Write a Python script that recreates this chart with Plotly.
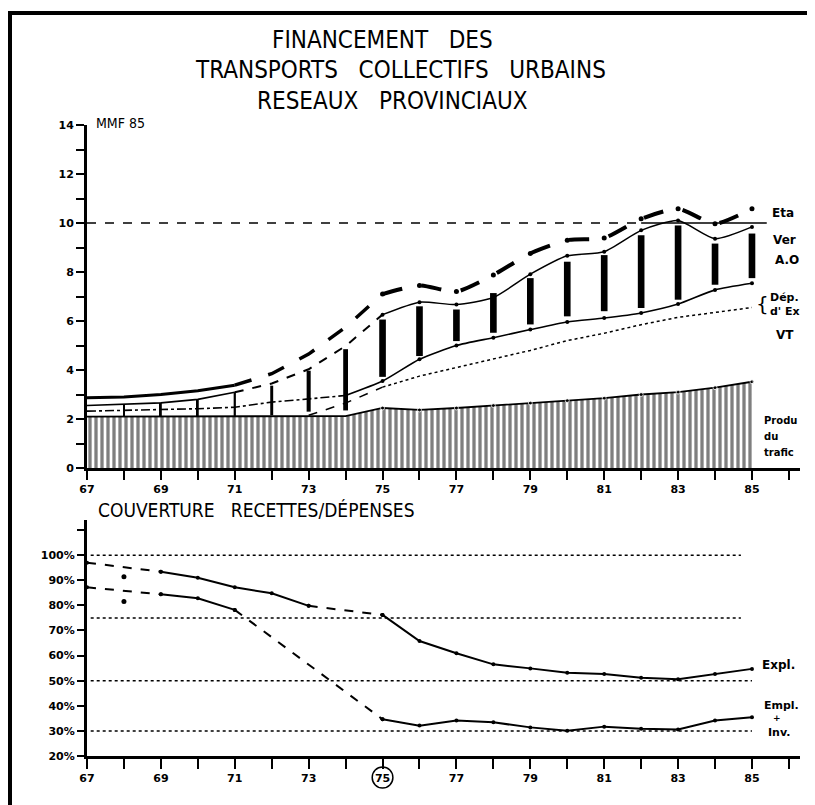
import plotly.graph_objects as go

# ---- upper chart: financement (MMF 85) ----
years = list(range(67, 86))
etat = [2.87, 2.9, 3.0, 3.15, 3.38, 3.85, 4.65, 5.75, 7.1, 7.45, 7.2, 7.88, 8.76, 9.3, 9.39, 10.17, 10.58, 9.97, 10.58]
ver_ao = [2.55, 2.59, 2.66, 2.8, 3.09, 3.45, 4.03, 4.98, 6.26, 6.77, 6.67, 6.96, 7.91, 8.66, 8.83, 9.7, 10.1, 9.36, 9.84]
dep_ex = [2.32, 2.35, 2.38, 2.42, 2.48, 2.69, 2.82, 2.96, 3.55, 4.44, 5.0, 5.32, 5.65, 5.96, 6.12, 6.33, 6.69, 7.27, 7.54]
vt_years = list(range(73, 86))
vt = [2.15, 2.65, 3.3, 3.75, 4.1, 4.45, 4.8, 5.2, 5.5, 5.85, 6.15, 6.35, 6.55]
produit = [2.1, 2.1, 2.1, 2.1, 2.1, 2.1, 2.1, 2.12, 2.45, 2.37, 2.45, 2.55, 2.65, 2.75, 2.85, 3.0, 3.1, 3.28, 3.52]

bar_years = list(range(68, 86))
bar_top = [2.59, 2.66, 2.8, 3.09, 3.36, 3.97, 4.85, 6.06, 6.6, 6.47, 7.14, 7.75, 8.42, 8.69, 9.5, 9.9, 9.16, 9.57]
bar_bottom = [2.1, 2.1, 2.1, 2.1, 2.15, 2.3, 2.35, 3.72, 4.57, 5.18, 5.52, 5.86, 6.19, 6.4, 6.53, 6.87, 7.48, 7.75]

ref10_dash_x = [67, 82]
ref10_solid_x = [82, 85.4]
ref10_y = [10, 10]

y_ticks_up = list(range(0, 15))
y_labels_up = ["0", "", "2", "", "4", "", "6", "", "8", "", "10", "", "12", "", "14"]

# ---- lower chart: couverture recettes / depenses (%) ----
expl_years = [67, 69, 70, 71, 72, 73, 75, 76, 77, 78, 79, 80, 81, 82, 83, 84, 85]
expl = [97.0, 93.4, 91.0, 87.2, 84.8, 79.8, 76.2, 65.8, 60.9, 56.5, 54.9, 53.2, 52.7, 51.2, 50.6, 52.7, 54.7]
inv_years = [67, 69, 70, 71, 75, 76, 77, 78, 79, 80, 81, 82, 83, 84, 85]
empl_inv = [87.2, 84.4, 82.8, 78.2, 34.6, 32.1, 34.1, 33.4, 31.4, 30.1, 31.7, 30.9, 30.6, 34.1, 35.4]
extra_x = [68, 68]
extra_y = [91.4, 81.5]

ref_levels = [100, 75, 50, 30]
ref_end = [84.7, 84.7, 85, 85]

y_ticks_low = list(range(20, 120, 10))
y_labels_low = ["20%", "30%", "40%", "50%", "60%", "70%", "80%", "90%", "100%", ""]

x_ticks = list(range(67, 87))
x_labels = [str(y) if y % 2 == 1 and y < 86 else "" for y in x_ticks]

K = "black"
FONT = "Liberation Sans Narrow, DejaVu Sans Condensed, Roboto Condensed, Liberation Sans, sans-serif"

# the page body has an 8px margin: the figure is made 8px smaller and
# window pixels are converted to paper fractions with that offset
OFF = 8
W, H = 815 - OFF, 805 - OFF


def px(x):
    return (x - OFF) / W


def py(y):
    return 1 - (y - OFF) / H


fig = go.Figure()


def seg(xs, ys, a, b, **kw):
    fig.add_trace(go.Scatter(x=xs[a:b], y=ys[a:b], showlegend=False, hoverinfo="skip", **kw))


# hatched "produit du trafic"
fig.add_trace(go.Scatter(x=years, y=produit, mode="lines+markers", fill="tozeroy",
                         line=dict(color=K, width=1.8), marker=dict(size=[0]*8 + [4]*11, color=K),
                         fillcolor="rgba(0,0,0,0)",
                         fillpattern=dict(shape="|", size=6, solidity=0.55, fgcolor=K, bgcolor="white"),
                         showlegend=False, hoverinfo="skip"))

# vertical bars between Dép. d'Ex and Ver. A.O
bar_w = [0.05, 0.05, 0.05, 0.06, 0.08, 0.11, 0.13, 0.18, 0.18, 0.18, 0.18, 0.18, 0.18, 0.18, 0.18, 0.18, 0.18, 0.18]
fig.add_trace(go.Bar(x=bar_years, y=[t - b for t, b in zip(bar_top, bar_bottom)], base=bar_bottom,
                     width=bar_w, marker=dict(color=K, line=dict(width=0)), showlegend=False, hoverinfo="skip"))

# Dép. d'Ex
seg(years, dep_ex, 0, 8, mode="lines", line=dict(color=K, width=1.6, dash="dashdot"))
seg(years, dep_ex, 7, 19, mode="lines+markers", line=dict(color=K, width=1.6, shape="spline", smoothing=0.6),
    marker=dict(size=4, color=K))
# VT
seg(vt_years, vt, 0, 3, mode="lines", line=dict(color=K, width=1.5, dash="dash"))
seg(vt_years, vt, 2, 13, mode="lines", line=dict(color=K, width=1.5, dash="dot"))
# Ver. A.O
seg(years, ver_ao, 0, 5, mode="lines", line=dict(color=K, width=1.6))
seg(years, ver_ao, 4, 9, mode="lines", line=dict(color=K, width=2, dash="dash"))
seg(years, ver_ao, 8, 19, mode="lines+markers", line=dict(color=K, width=1.5, shape="spline", smoothing=0.6),
    marker=dict(size=4, color=K))
# Etat
seg(years, etat, 0, 5, mode="lines", line=dict(color=K, width=3))
seg(years, etat, 4, 9, mode="lines", line=dict(color=K, width=3.5, dash="longdash"))
seg(years, etat, 8, 19, mode="lines+markers", line=dict(color=K, width=4, dash="longdash", shape="spline", smoothing=0.6),
    marker=dict(size=5, color=K))
# 10 line
fig.add_trace(go.Scatter(x=ref10_dash_x, y=ref10_y, mode="lines", line=dict(color=K, width=1.5, dash="dash"),
                         showlegend=False, hoverinfo="skip"))
fig.add_trace(go.Scatter(x=ref10_solid_x, y=ref10_y, mode="lines", line=dict(color=K, width=1.5),
                         showlegend=False, hoverinfo="skip"))

# lower chart
for lv, end in zip(ref_levels, ref_end):
    fig.add_trace(go.Scatter(x=[67.1, end], y=[lv, lv], mode="lines", xaxis="x2", yaxis="y2",
                             line=dict(color=K, width=1.5, dash="dot"), showlegend=False, hoverinfo="skip"))


def seg2(xs, ys, a, b, dash):
    fig.add_trace(go.Scatter(x=xs[a:b], y=ys[a:b], mode="lines+markers", xaxis="x2", yaxis="y2",
                             line=dict(color=K, width=2, dash=dash), marker=dict(size=4, color=K),
                             showlegend=False, hoverinfo="skip"))


seg2(expl_years, expl, 0, 2, "dash")
seg2(expl_years, expl, 1, 6, "solid")
seg2(expl_years, expl, 5, 7, "dash")
seg2(expl_years, expl, 6, 17, "solid")
seg2(inv_years, empl_inv, 0, 2, "dash")
seg2(inv_years, empl_inv, 1, 4, "solid")
seg2(inv_years, empl_inv, 3, 5, "dash")
seg2(inv_years, empl_inv, 4, 15, "solid")
fig.add_trace(go.Scatter(x=extra_x, y=extra_y, mode="markers", xaxis="x2", yaxis="y2",
                         marker=dict(size=5, color=K), showlegend=False, hoverinfo="skip"))

tickfont = dict(family="DejaVu Sans", size=11, color=K, weight="bold")
xdom = [px(87), px(800)]
axis_common = dict(showline=True, linecolor=K, linewidth=3, ticks="outside", tickcolor=K, automargin=False,
                   tickwidth=2, showgrid=False, zeroline=False, tickfont=tickfont)

fig.update_layout(
    width=W, height=H, margin=dict(l=0, r=0, t=0, b=0, pad=0, autoexpand=False),
    paper_bgcolor="white", plot_bgcolor="white", barmode="overlay",
    xaxis=dict(domain=xdom, range=[67, 86.3], anchor="y", tickmode="array", tickvals=x_ticks,
               ticktext=x_labels, ticklen=9, **axis_common),
    yaxis=dict(domain=[py(468), py(125)], range=[0, 14], anchor="x", tickmode="array",
               tickvals=y_ticks_up, ticktext=y_labels_up, ticklen=8, **axis_common),
    xaxis2=dict(domain=xdom, range=[67, 86.3], anchor="y2", tickmode="array", tickvals=x_ticks,
                ticktext=x_labels, ticklen=10, **axis_common),
    yaxis2=dict(domain=[py(756), py(520)], range=[20, 114], anchor="x2", tickmode="array",
                tickvals=y_ticks_low, ticktext=y_labels_low, ticklen=7, **axis_common),
)

# frame of the scanned page (top, left and right edges)
frame = dict(type="line", xref="paper", yref="paper", line=dict(color=K, width=4))
fig.add_shape(x0=px(8), x1=px(812), y0=py(13), y1=py(13), **frame)
fig.add_shape(x0=px(10), x1=px(10), y0=py(13), y1=py(805), **frame)
fig.add_shape(x0=px(810), x1=px(810), y0=py(13), y1=py(805), **frame)
# circled 75
fig.add_shape(type="circle", xref="x2", yref="paper", x0=74.72, x1=75.28, y0=py(788), y1=py(767),
              line=dict(color=K, width=1.5))


def txt(x, y, s, size=12, xanchor="left", family=FONT):
    fig.add_annotation(x=px(x), y=py(y), xref="paper", yref="paper", text=s, showarrow=False,
                       xanchor=xanchor, yanchor="middle", font=dict(family=family, size=size, color=K))


NB = "\u00a0"
txt(382, 40, "FINANCEMENT" + NB * 3 + "DES", 24, "center")
txt(400, 70, "TRANSPORTS" + NB * 3 + "COLLECTIFS" + NB * 3 + "URBAINS", 24, "center")
txt(392, 101, "RESEAUX" + NB * 3 + "PROVINCIAUX", 24, "center")
txt(94, 123, "MMF 85", 14)
txt(96, 510, "COUVERTURE" + NB * 3 + "RECETTES/DÉPENSES", 19)

lab = "DejaVu Sans"
txt(770, 213, "<b>Eta</b>", 12, family=lab)
txt(771, 240, "<b>Ver</b>", 12, family=lab)
txt(773, 260, "<b>A.O</b>", 12, family=lab)
txt(754, 304, "{", 20, family=lab)
txt(768, 297, "<b>Dép.</b>", 11, family=lab)
txt(768, 311, "<b>d' Ex</b>", 11, family=lab)
txt(774, 335, "<b>VT</b>", 12, family=lab)
txt(762, 420, "<b>Produ</b>", 10, family=lab)
txt(762, 437, "<b>du</b>", 10, family=lab)
txt(762, 452, "<b>trafic</b>", 10, family=lab)
txt(760, 665, "<b>Expl.</b>", 12, family=lab)
txt(762, 705, "<b>Empl.</b>", 11, family=lab)
txt(771, 718, "<b>+</b>", 9, family=lab)
txt(766, 732, "<b>Inv.</b>", 11, family=lab)

fig.write_html("out.html")
